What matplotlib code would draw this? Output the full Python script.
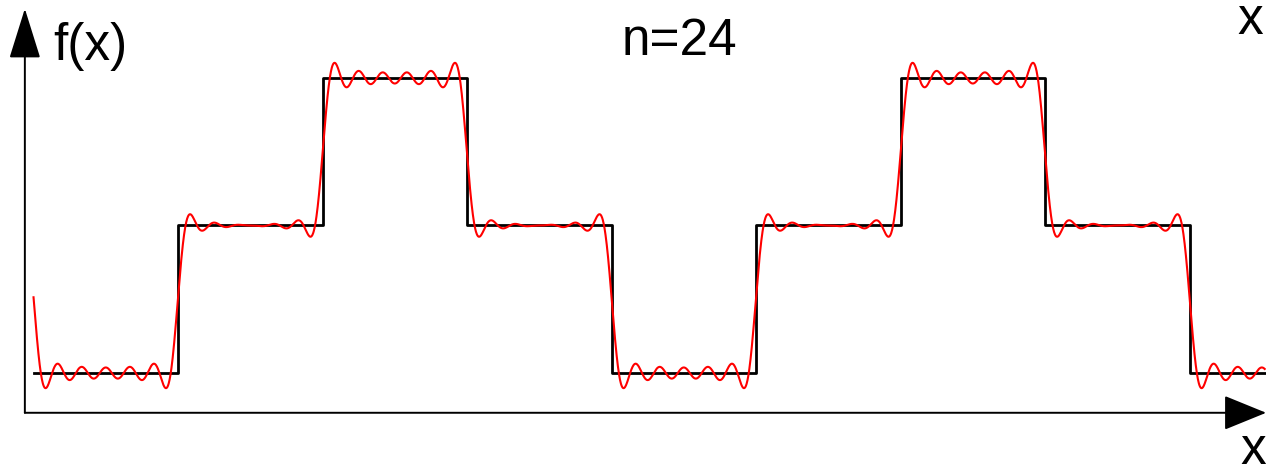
import numpy as np
import matplotlib
matplotlib.use("Agg")
import matplotlib.pyplot as plt

plt.rcParams['font.family'] = ['Liberation Sans', 'DejaVu Sans']

# step function (x in units of one step width)
step_edges = [-1, 0, 1, 2, 3, 4, 5, 6, 7, 7.52]
step_levels = [0, 1, 2, 1, 0, 1, 2, 1, 0]
PERIOD = 4
N_TERMS = 24

# fourier coefficients of one period (the first four steps)
a0 = 0.0
a = np.zeros(N_TERMS + 1)
b = np.zeros(N_TERMS + 1)
for i in range(4):
    x1, x2, lv = step_edges[i], step_edges[i + 1], step_levels[i]
    a0 += lv * (x2 - x1) / PERIOD
    for k in range(1, N_TERMS + 1):
        w = 2 * np.pi * k / PERIOD
        a[k] += lv / (np.pi * k) * (np.sin(w * x2) - np.sin(w * x1))
        b[k] += lv / (np.pi * k) * (np.cos(w * x1) - np.cos(w * x2))

xs = np.linspace(step_edges[0], step_edges[-1], 4000)
ys = np.full_like(xs, a0)
for k in range(1, N_TERMS + 1):
    w = 2 * np.pi * k / PERIOD
    ys += a[k] * np.cos(w * xs) + b[k] * np.sin(w * xs)

fig = plt.figure(figsize=(12.66, 4.70), dpi=100)
ax = fig.add_axes([0, 0, 1, 1])
ax.set_xlim(-1.232, 7.529)
ax.set_ylim(-0.658, 2.529)
ax.axis('off')

# axes with arrows
y_ax_x = -1.06
x_ax_y = -0.27
ax.annotate('', xy=(y_ax_x, 2.47), xytext=(y_ax_x, x_ax_y),
            arrowprops=dict(arrowstyle='-|>,head_length=1.6,head_width=0.5',
                            mutation_scale=20, lw=1.4, color='black',
                            shrinkA=0, shrinkB=0))
ax.annotate('', xy=(7.53, x_ax_y), xytext=(y_ax_x, x_ax_y),
            arrowprops=dict(arrowstyle='-|>,head_length=1.35,head_width=0.55',
                            mutation_scale=20, lw=1.4, color='black',
                            shrinkA=0, shrinkB=0))

ax.step(step_edges, step_levels + [step_levels[-1]], where='post',
        color='black', lw=2.0)
ax.plot(xs, ys, color='red', lw=1.5)

ax.text(-0.865, 2.12, 'f(x)', fontsize=37, va='baseline', ha='left')
ax.text(3.073, 2.156, 'n=24', fontsize=37, va='baseline', ha='left')
ax.text(7.33, 2.30, 'x', fontsize=37, va='baseline', ha='left')
ax.text(7.35, -0.615, 'x', fontsize=37, va='baseline', ha='left')

fig.savefig('out.png', dpi=100)
